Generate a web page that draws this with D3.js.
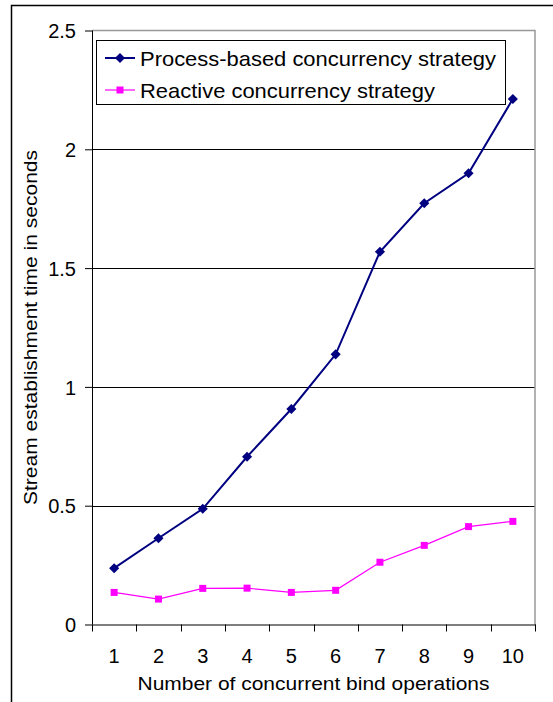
<!DOCTYPE html>
<html><head><meta charset="utf-8">
<script src="https://cdn.jsdelivr.net/npm/d3@7"></script>
<style>body{margin:0;background:#fff}svg{display:block}text{font-family:"Liberation Sans",Arial,sans-serif;fill:#000}</style>
</head><body><svg id="c" width="553" height="702"></svg>
<script>
const categories = [1,2,3,4,5,6,7,8,9,10];
const processValues = [0.237,0.363,0.487,0.706,0.907,1.137,1.569,1.773,1.899,2.212];
const reactiveValues = [0.135,0.107,0.152,0.153,0.135,0.144,0.262,0.333,0.412,0.434];
const yTicks = [0,0.5,1,1.5,2,2.5];
const seriesNames = ["Process-based concurrency strategy","Reactive concurrency strategy"];
const xTitle = "Number of concurrent bind operations";
const yTitle = "Stream establishment time in seconds";

const svg = d3.select("#c");
const L=92, R=535, T=30.5, B=624.5;
const x = d3.scaleBand().domain(categories).range([L,R]);
const y = d3.scaleLinear().domain([0,2.5]).range([B,T]);

// outer frame
svg.append("rect").attr("x",11.5).attr("y",5.5).attr("width",600).attr("height",720)
  .attr("fill","none").attr("stroke","#000").attr("stroke-width",1.5);

// gridlines
svg.append("g").selectAll("line").data(yTicks.filter(d=>d>0&&d<2.5)).join("line")
  .attr("x1",L).attr("x2",R).attr("y1",d=>Math.round(y(d))+0.5).attr("y2",d=>Math.round(y(d))+0.5)
  .attr("stroke","#000").attr("stroke-width",1);
// plot border top/right
svg.append("path").attr("d",`M${L},${T}H${R}V${B}`).attr("fill","none").attr("stroke","#999").attr("stroke-width",1.5);

// y axis
const ya = svg.append("g").attr("transform",`translate(${L},0)`)
  .call(d3.axisLeft(y).tickValues(yTicks).tickSize(7).tickPadding(9).tickFormat(d=>String(d)));
ya.select(".domain").attr("stroke","#000").attr("d",`M0.5,${T}V${B}`);
ya.selectAll(".tick line").attr("stroke","#000");
ya.selectAll(".tick text").attr("font-size",20).attr("font-family","Liberation Sans, Arial, sans-serif").attr("dy","0.36em");

// x axis
const xa = svg.append("g").attr("transform",`translate(0,${B})`)
  .call(d3.axisBottom(x).tickSize(0).tickPadding(24));
xa.select(".domain").remove();
xa.selectAll(".tick text").attr("font-size",20).attr("font-family","Liberation Sans, Arial, sans-serif");
svg.append("line").attr("x1",L).attr("x2",R+1).attr("y1",B+0.5).attr("y2",B+0.5).attr("stroke","#000");
const bounds = categories.map(c=>x(c)).concat([R]);
svg.append("g").selectAll("line").data(bounds).join("line")
  .attr("x1",d=>Math.round(d)+0.5).attr("x2",d=>Math.round(d)+0.5).attr("y1",B).attr("y2",B+7).attr("stroke","#000");

// titles
svg.append("text").attr("x",(L+R)/2).attr("y",690).attr("text-anchor","middle").attr("font-size",19)
  .attr("textLength",352).attr("lengthAdjust","spacingAndGlyphs").text(xTitle);
svg.append("text").attr("transform",`translate(37,${(T+B)/2}) rotate(-90)`).attr("text-anchor","middle").attr("font-size",19)
  .attr("textLength",355).attr("lengthAdjust","spacingAndGlyphs").text(yTitle);

const cx = d => x(d)+x.bandwidth()/2;
const line = vals => d3.line().x((d,i)=>cx(categories[i])).y(d=>y(d))(vals);

// reactive
svg.append("path").attr("d",line(reactiveValues)).attr("fill","none").attr("stroke","#ff00ff").attr("stroke-width",1.2);
svg.append("g").selectAll("rect").data(reactiveValues).join("rect")
  .attr("x",(d,i)=>cx(categories[i])-3.5).attr("y",d=>y(d)-3.5).attr("width",7).attr("height",7).attr("fill","#ff00ff");
// process
svg.append("path").attr("d",line(processValues)).attr("fill","none").attr("stroke","#000080").attr("stroke-width",2);
const diamond = d3.symbol().type(d3.symbolDiamond2).size(65);
svg.append("g").selectAll("path").data(processValues).join("path")
  .attr("d",diamond).attr("transform",(d,i)=>`translate(${cx(categories[i])},${y(d)})`).attr("fill","#000080");

// legend
const lg = svg.append("g");
lg.append("rect").attr("x",96.5).attr("y",40.5).attr("width",409).attr("height",64).attr("fill","#fff").attr("stroke","#000").attr("stroke-width",1);
const rows = [{name:seriesNames[0],c:"#000080",w:2,m:"d",len:356},{name:seriesNames[1],c:"#ff00ff",w:1.2,m:"s",len:295}];
rows.forEach((r,i)=>{
  const yy = 58 + i*32;
  lg.append("line").attr("x1",105).attr("x2",135).attr("y1",yy).attr("y2",yy).attr("stroke",r.c).attr("stroke-width",r.w);
  if(r.m==="d") lg.append("path").attr("d",diamond).attr("transform",`translate(120,${yy})`).attr("fill",r.c);
  else lg.append("rect").attr("x",116.5).attr("y",yy-3.5).attr("width",7).attr("height",7).attr("fill",r.c);
  lg.append("text").attr("x",140).attr("y",yy+7.5).attr("font-size",21)
    .attr("textLength",r.len).attr("lengthAdjust","spacingAndGlyphs").text(r.name);
});
</script></body></html>
